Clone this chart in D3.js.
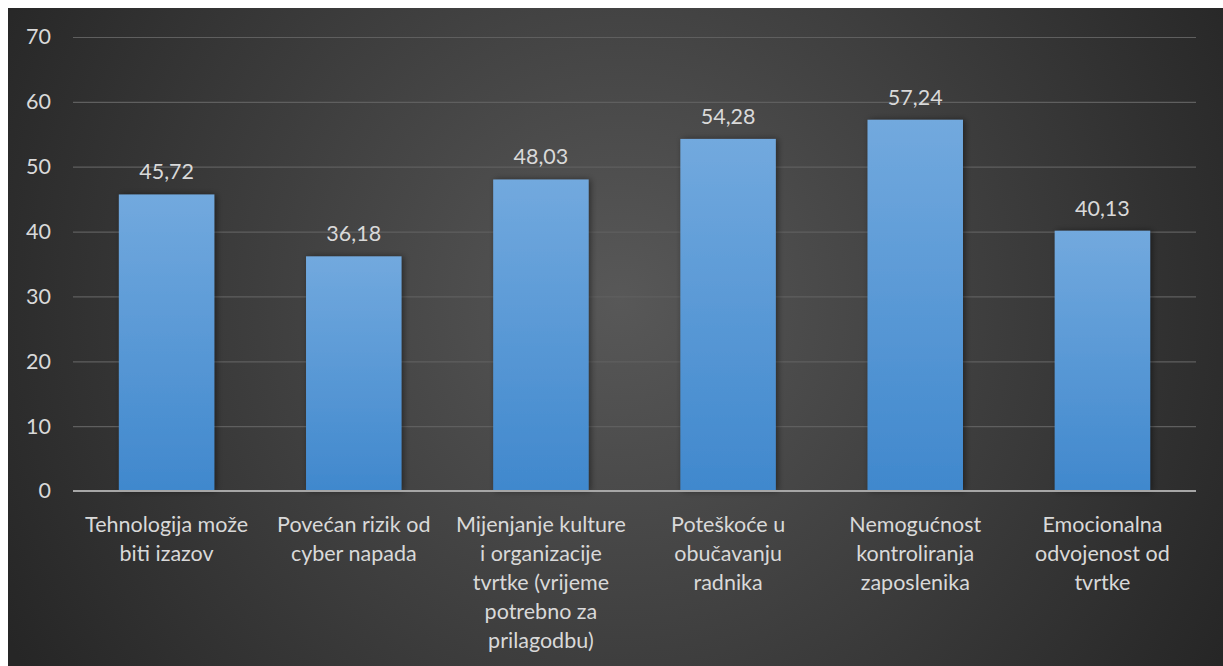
<!DOCTYPE html>
<html><head><meta charset="utf-8">
<script src="https://cdn.jsdelivr.net/npm/d3@7"></script>
<style>
html,body{margin:0;padding:0;background:#fff;}
svg{display:block;}
text{font-family:Lato,"Open Sans",sans-serif;}
</style></head>
<body>
<svg id="chart" width="1223" height="666"></svg>
<script>
const categories = [
  "Tehnologija može\nbiti izazov",
  "Povećan rizik od\ncyber napada",
  "Mijenjanje kulture\ni organizacije\ntvrtke (vrijeme\npotrebno za\nprilagodbu)",
  "Poteškoće u\nobučavanju\nradnika",
  "Nemogućnost\nkontroliranja\nzaposlenika",
  "Emocionalna\nodvojenost od\ntvrtke"
];
const values = [45.72, 36.18, 48.03, 54.28, 57.24, 40.13];
const valueLabels = ["45,72", "36,18", "48,03", "54,28", "57,24", "40,13"];
const yTicks = [0, 10, 20, 30, 40, 50, 60, 70];

const W = 1223, H = 666;
const FS = "21.5px";
const svg = d3.select("#chart");
const defs = svg.append("defs");

const bg = defs.append("radialGradient").attr("id","bg")
  .attr("gradientUnits","userSpaceOnUse").attr("cx",620).attr("cy",300).attr("r",700);
bg.append("stop").attr("offset","0").attr("stop-color","#585858");
bg.append("stop").attr("offset","1").attr("stop-color","#262626");

const bar = defs.append("linearGradient").attr("id","bar").attr("x1",0).attr("y1",0).attr("x2",0).attr("y2",1);
bar.append("stop").attr("offset","0").attr("stop-color","#72a9de");
bar.append("stop").attr("offset","1").attr("stop-color","#4088cd");

const sh = defs.append("filter").attr("id","shadow").attr("x","-20%").attr("y","-20%").attr("width","140%").attr("height","140%");
sh.append("feDropShadow").attr("dx",2).attr("dy",0).attr("stdDeviation",3).attr("flood-color","#000").attr("flood-opacity",0.45);

svg.append("rect").attr("x",8).attr("y",8).attr("width",W-8).attr("height",H-8).attr("fill","url(#bg)");

const mLeft = 73, mRight = 1196, mTop = 37, mBottom = 491;
const x = d3.scaleBand().domain(categories).range([mLeft,mRight]).paddingInner(0.49).paddingOuter(0.245);
const y = d3.scaleLinear().domain([0,70]).range([mBottom, mTop]);

// gridlines
const grid = svg.append("g").attr("transform",`translate(${mLeft},0)`)
  .call(d3.axisLeft(y).tickValues(yTicks).tickSize(-(mRight-mLeft)).tickFormat(""));
grid.select(".domain").remove();
grid.selectAll("line").attr("stroke","#5f5f5f").attr("stroke-width",1.2);

// y labels
const yax = svg.append("g").attr("transform",`translate(51,0)`)
  .call(d3.axisLeft(y).tickValues(yTicks).tickSize(0).tickPadding(0));
yax.select(".domain").remove();
yax.selectAll("text").attr("fill","#d9d9d9").style("font-size",FS).style("font-family","Lato,sans-serif");

// bars
svg.append("g").selectAll("rect").data(values).join("rect")
  .attr("x",(d,i)=>x(categories[i]))
  .attr("width",x.bandwidth())
  .attr("y",d=>y(d))
  .attr("height",d=>y(0)-y(d))
  .attr("fill","url(#bar)")
  .attr("filter","url(#shadow)");

// x axis line
svg.append("line").attr("x1",mLeft).attr("x2",mRight).attr("y1",y(0)).attr("y2",y(0))
  .attr("stroke","#a6a6a6").attr("stroke-width",2);

// value labels
svg.append("g").selectAll("text").data(values).join("text")
  .attr("x",(d,i)=>x(categories[i])+x.bandwidth()/2)
  .attr("y",d=>y(d)-15)
  .attr("text-anchor","middle")
  .attr("fill","#d9d9d9").style("font-size",FS)
  .text((d,i)=>valueLabels[i]);

// category labels
const xl = svg.append("g").attr("transform",`translate(0,${mBottom})`)
  .call(d3.axisBottom(x).tickSize(0).tickFormat(""));
xl.select(".domain").remove();
xl.selectAll(".tick").each(function(d){
  const lines = d.split("\n");
  const t = d3.select(this).append("text").attr("text-anchor","middle")
    .attr("fill","#d9d9d9").style("font-size",FS);
  lines.forEach((ln,j)=>{
    t.append("tspan").attr("x",0).attr("y",41+j*29).text(ln);
  });
});
</script>
</body></html>
